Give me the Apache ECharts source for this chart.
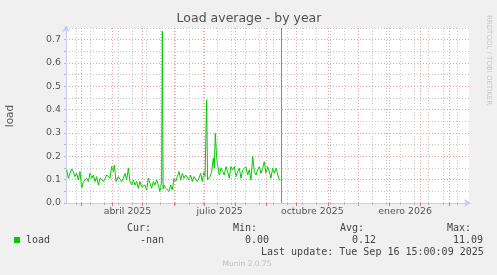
<!DOCTYPE html>
<html><head><meta charset="utf-8">
<script src="https://cdn.jsdelivr.net/npm/echarts@6/dist/echarts.min.js"></script>
<style>html,body{margin:0;padding:0;background:#f0f0f0}#c{width:497px;height:275px}</style>
</head><body><div id="c"></div>
<script>
// ---- data (x = days since 2025-02-14, y = load) ----
const axisStart = [2025, 1, 14];   // Feb 14 2025
const axisEnd = [2026, 2, 21];     // Mar 21 2026
const nowDay = [2025, 8, 16];      // Sep 16 2025
const dayOffsets = [
  0.7,2.3,4.0,5.6,7.3,8.9,10.6,12.2,13.9,15.6,
  17.2,18.9,20.5,22.2,23.8,25.5,27.1,28.8,30.4,32.1,
  33.8,35.4,37.1,38.7,40.4,42.0,43.7,45.3,47.0,48.0,
  49.6,51.9,53.6,55.2,56.9,58.6,60.2,61.9,63.5,65.2,
  66.8,68.5,70.1,71.8,73.4,75.1,76.7,78.4,80.1,81.7,
  83.4,85.0,86.7,88.3,90.0,91.6,93.3,94.9,95.6,96.4,
  97.3,98.9,100.6,102.2,103.9,105.5,107.2,108.8,110.5,112.2,
  113.8,115.5,117.1,118.8,120.4,122.1,123.7,125.4,127.0,128.7,
  130.3,132.0,133.7,135.3,137.0,138.0,139.6,140.5,141.3,142.9,
  144.6,146.2,147.2,148.2,149.5,150.5,152.2,153.8,155.5,157.1,
  158.8,160.4,162.1,163.7,165.4,167.1,168.7,170.4,172.0,173.7,
  175.3,177.0,178.6,180.3,181.9,183.6,185.3,186.9,188.6,190.2,
  191.9,193.5,195.2,196.8,198.5,200.1,201.8,203.4,205.1,206.7,
  208.4,210.0,211.7,213.0
];
const loadValues = [
  0.142,0.106,0.127,0.146,0.135,0.113,0.127,0.099,0.135,0.063,
  0.092,0.084,0.106,0.092,0.127,0.106,0.120,0.092,0.113,0.077,
  0.106,0.113,0.092,0.099,0.120,0.113,0.106,0.156,0.135,0.163,
  0.092,0.113,0.120,0.092,0.106,0.127,0.099,0.149,0.092,0.077,
  0.099,0.077,0.092,0.063,0.092,0.070,0.063,0.077,0.056,0.106,
  0.084,0.063,0.092,0.077,0.099,0.077,0.049,0.092,0.736,0.060,
  0.077,0.063,0.070,0.049,0.077,0.056,0.106,0.092,0.113,0.135,
  0.099,0.127,0.106,0.120,0.127,0.099,0.120,0.092,0.113,0.120,
  0.092,0.106,0.127,0.092,0.135,0.113,0.442,0.100,0.092,0.113,
  0.135,0.192,0.149,0.299,0.199,0.163,0.120,0.149,0.135,0.120,
  0.156,0.135,0.106,0.156,0.142,0.156,0.113,0.135,0.149,0.106,
  0.142,0.135,0.156,0.120,0.142,0.099,0.199,0.135,0.120,0.142,
  0.156,0.127,0.149,0.177,0.127,0.156,0.135,0.106,0.149,0.127,
  0.149,0.156,0.099,0.099
];
const monthLabels = ['abril 2025', 'julio 2025', 'octubre 2025', 'enero 2026'];
const monthLabelMonths = [[2025, 3], [2025, 6], [2025, 9], [2026, 0]];
const yTicks = [0, 0.1, 0.2, 0.3, 0.4, 0.5, 0.6, 0.7];
const legendHeads = ['Cur:', 'Min:', 'Avg:', 'Max:'];
const legendStats = ['-nan', '0.00', '0.12', '11.09'];
const titleText = 'Load average - by year';
const yName = 'load';
const seriesName = 'load';
const lastUpdate = 'Last update: Tue Sep 16 15:00:09 2025';
const footer = 'Munin 2.0.75';
const vendor = 'RRDTOOL / TOBI OETIKER';

// ---- helpers ----
const DAY = 86400000;
const t0 = Date.UTC(axisStart[0], axisStart[1], axisStart[2]);
const dayOf = (y, m, d) => (Date.UTC(y, m, d) - t0) / DAY;
const xMax = dayOf(axisEnd[0], axisEnd[1], axisEnd[2]);
const nowX = dayOf(nowDay[0], nowDay[1], nowDay[2]);
const monthStarts = [];
for (let y = 2025, m = 2; ; ) {
  const d = dayOf(y, m, 1);
  if (d > xMax) break;
  monthStarts.push(d);
  m++; if (m > 11) { m = 0; y++; }
}
const biweekly = [];
for (let d = dayOf(2025, 1, 24); d <= xMax; d += 14) biweekly.push(d);
const labelDays = monthLabelMonths.map(([y, m]) => (dayOf(y, m, 1) + dayOf(y, m + 1, 1)) / 2);

const RED = '#eba0a0', GREY = '#c8c8c8', AXIS = '#c8ccef';
const SANS = 'DejaVu Sans', MONO = 'DejaVu Sans Mono';

const chart = echarts.init(document.getElementById('c'), null, {renderer: 'canvas'});
const legendX = [[127, 140], [233, 245], [340, 352], [447, 453]];
const graphics = [
  {type: 'text', x: 249, y: 19, style: {text: titleText, font: '12.5px "' + SANS + '"', fill: '#505050', textAlign: 'center', textVerticalAlign: 'middle'}},
  {type: 'text', x: 10, y: 116, rotation: Math.PI / 2, style: {text: yName, font: '10.5px "' + SANS + '"', fill: '#555', textAlign: 'center', textVerticalAlign: 'middle'}},
  {type: 'text', x: 489, y: 15, rotation: -Math.PI / 2, style: {text: vendor, font: '7px "' + SANS + '"', fill: '#c8c8c8', textAlign: 'left', textVerticalAlign: 'middle'}},
  {type: 'rect', shape: {x: 14, y: 237, width: 6, height: 6}, style: {fill: '#00cc00'}},
  {type: 'text', x: 26, y: 240, style: {text: seriesName, font: '10px "' + MONO + '"', fill: '#444', textAlign: 'left', textVerticalAlign: 'middle'}},
  {type: 'text', x: 261, y: 252, style: {text: lastUpdate, font: '10px "' + MONO + '"', fill: '#444', textAlign: 'left', textVerticalAlign: 'middle'}},
  {type: 'text', x: 247, y: 264, style: {text: footer, font: '7.5px "' + SANS + '"', fill: '#c0c0c0', textAlign: 'center', textVerticalAlign: 'middle'}}
];
legendHeads.forEach((h, i) => {
  graphics.push({type: 'text', x: legendX[i][0], y: 228, style: {text: h, font: '10px "' + MONO + '"', fill: '#444', textAlign: 'left', textVerticalAlign: 'middle'}});
  graphics.push({type: 'text', x: legendX[i][1], y: 240, style: {text: legendStats[i], font: '10px "' + MONO + '"', fill: '#444', textAlign: 'left', textVerticalAlign: 'middle'}});
});

const vline = (vals, color, type) => ({
  type: 'line', data: [], z: 1, silent: true, animation: false,
  markLine: {silent: true, animation: false, symbol: ['none', 'none'], label: {show: false},
    lineStyle: {color: color, type: type, width: 1}, data: vals.map(v => ({xAxis: v}))}
});

chart.setOption({
  backgroundColor: '#f0f0f0',
  animation: false,
  grid: {left: 66, top: 28, width: 403, height: 175, show: true, backgroundColor: '#ffffff', borderWidth: 0, containLabel: false, outerBoundsMode: 'none'},
  xAxis: [{
    type: 'value', min: 0, max: xMax,
    axisLine: {show: true, lineStyle: {color: AXIS, width: 1}, symbol: ['none', 'arrow'], symbolSize: [6, 7], symbolOffset: [0, 2]},
    axisTick: {show: true, customValues: monthStarts, length: 3, lineStyle: {color: '#e07070'}},
    axisLabel: {customValues: labelDays, formatter: (v) => monthLabels[labelDays.indexOf(v)] || '', color: '#555', fontFamily: SANS, fontSize: 9.4, margin: 4},
    splitLine: {show: false}
  }, {
    type: 'value', min: 0, max: xMax, position: 'bottom',
    axisLine: {show: false},
    axisTick: {show: true, customValues: biweekly, length: 2, lineStyle: {color: '#b8b8b8'}},
    axisLabel: {show: false}, splitLine: {show: false}
  }],
  yAxis: {
    type: 'value', min: 0, max: 0.75, interval: 0.05,
    axisLine: {show: true, lineStyle: {color: AXIS, width: 1}, symbol: ['none', 'arrow'], symbolSize: [6, 7], symbolOffset: [0, 3]},
    axisTick: {show: true, length: 2, lineStyle: {color: '#b8b8b8'}},
    axisLabel: {formatter: (v) => { const r = Math.round(v * 100); return r % 10 === 0 ? yTicks[r / 10].toFixed(1) : ''; }, color: '#555', fontFamily: SANS, fontSize: 9.4, margin: 5},
    splitLine: {show: true, lineStyle: {color: [RED, GREY], type: [1, 2], width: 1}}
  },
  graphic: graphics,
  series: [
    vline(biweekly, GREY, [1, 2]),
    vline(monthStarts, RED, [1, 2]),
    {
      name: seriesName, type: 'line', z: 3, showSymbol: false, symbol: 'none',
      data: dayOffsets.map((d, i) => [d, loadValues[i]]),
      lineStyle: {color: '#00cc00', width: 1}, itemStyle: {color: '#00cc00'}
    },
    {
      type: 'line', data: [], z: 4, silent: true,
      markLine: {silent: true, symbol: ['none', 'none'], label: {show: false},
        lineStyle: {color: '#8a8a8a', type: 'solid', width: 1}, data: [{xAxis: nowX}]}
    }
  ]
});
</script></body></html>
